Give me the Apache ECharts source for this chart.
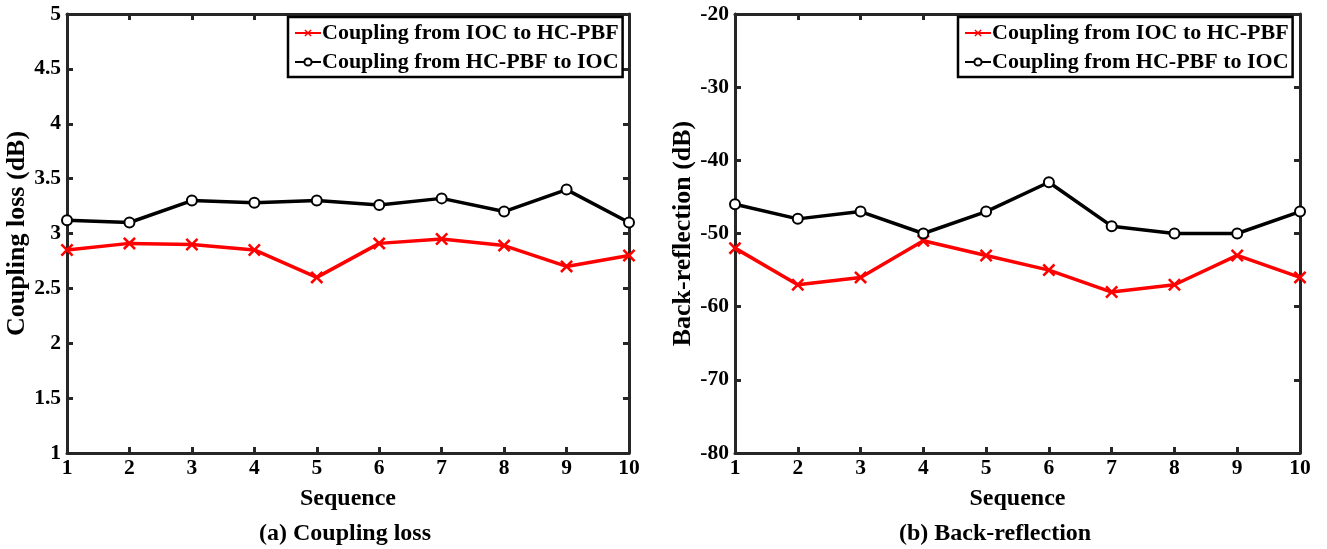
<!DOCTYPE html>
<html><head><meta charset="utf-8">
<script src="https://cdn.jsdelivr.net/npm/echarts@6/dist/echarts.min.js"></script>
<style>html,body{margin:0;padding:0;background:#fff}#c{width:1327px;height:549px}</style>
</head><body><div id="c"></div>
<script>
const sequence = ['1','2','3','4','5','6','7','8','9','10'];
const lossIocToFiber = [2.85, 2.91, 2.90, 2.85, 2.60, 2.91, 2.95, 2.89, 2.70, 2.80];
const lossFiberToIoc = [3.12, 3.10, 3.30, 3.28, 3.30, 3.26, 3.32, 3.20, 3.40, 3.10];
const reflIocToFiber = [-52, -57, -56, -51, -53, -55, -58, -57, -53, -56];
const reflFiberToIoc = [-46, -48, -47, -50, -47, -43, -49, -50, -50, -47];
const seriesNames = ['Coupling from IOC to HC-PBF', 'Coupling from HC-PBF to IOC'];

const FONT = '"Liberation Serif", "Times New Roman", serif';
const FRAME = '#262626';
const crossPath = 'path://M0,1.4L1.4,0L5,3.6L8.6,0L10,1.4L6.4,5L10,8.6L8.6,10L5,6.4L1.4,10L0,8.6L3.6,5Z';

const grids = [
  {left: 67, right: 698, top: 14, bottom: 96},
  {left: 735, right: 27, top: 14, bottom: 96}
];

function xAxes(gi) {
  const base = {
    type: 'category', data: sequence, boundaryGap: false, gridIndex: gi,
    axisLine: {show: true, lineStyle: {color: FRAME, width: 3}},
    axisTick: {show: true, inside: true, length: 6, alignWithLabel: true, lineStyle: {color: FRAME, width: 3}},
    splitLine: {show: false}
  };
  return [
    Object.assign({}, base, {
      position: 'bottom',
      name: 'Sequence', nameLocation: 'middle', nameGap: 34,
      nameTextStyle: {fontFamily: FONT, fontWeight: 'bold', fontSize: 24, color: '#000'},
      axisLabel: {fontFamily: FONT, fontWeight: 'bold', fontSize: 21.5, color: '#000', margin: 4}
    }),
    Object.assign({}, base, {position: 'top', axisLabel: {show: false}})
  ];
}
function yAxes(gi, min, max, interval, name) {
  const base = {
    type: 'value', gridIndex: gi, min: min, max: max, interval: interval,
    axisLine: {show: true, lineStyle: {color: FRAME, width: 3}},
    axisTick: {show: true, inside: true, length: 6, lineStyle: {color: FRAME, width: 3}},
    splitLine: {show: false}
  };
  return [
    Object.assign({}, base, {
      position: 'left',
      name: name, nameLocation: 'middle', nameGap: 36,
      nameTextStyle: {fontFamily: FONT, fontWeight: 'bold', fontSize: 26, color: '#000'},
      axisLabel: {fontFamily: FONT, fontWeight: 'bold', fontSize: 21.5, color: '#000', margin: 6}
    }),
    Object.assign({}, base, {position: 'right', axisLabel: {show: false}})
  ];
}

function redSeries(data, xi, yi) {
  return {
    name: seriesNames[0], type: 'line', data: data, xAxisIndex: xi, yAxisIndex: yi,
    symbol: crossPath, symbolSize: 13, showAllSymbol: true,
    lineStyle: {color: '#ff0000', width: 3.5},
    itemStyle: {color: '#ff0000'}, z: 3
  };
}
function blackSeries(data, xi, yi) {
  return {
    name: seriesNames[1], type: 'line', data: data, xAxisIndex: xi, yAxisIndex: yi,
    symbol: 'emptyCircle', symbolSize: 10, showAllSymbol: true,
    lineStyle: {color: '#000', width: 3.5},
    itemStyle: {color: '#000', borderColor: '#000', borderWidth: 3.5}, z: 3
  };
}

function legend(left) {
  return {
    show: true, data: seriesNames, orient: 'vertical', left: left, top: 17,
    itemWidth: 26, itemHeight: 9, itemGap: 7,
    padding: [5, 4, 4, 6],
    borderColor: '#000', borderWidth: 2.5, backgroundColor: '#fff',
    textStyle: {fontFamily: FONT, fontWeight: 'bold', fontSize: 22, color: '#000', padding: [0, 0, 0, -4]}
  };
}

const chart = echarts.init(document.getElementById('c'), null, {renderer: 'canvas'});
chart.setOption({
  animation: false,
  backgroundColor: '#fff',
  grid: grids,
  xAxis: [].concat(xAxes(0), xAxes(1)),
  yAxis: [].concat(yAxes(0, 1, 5, 0.5, 'Coupling loss (dB)'), yAxes(1, -80, -20, 10, 'Back-reflection (dB)')),
  legend: [legend(288), legend(958)],
  series: [
    redSeries(lossIocToFiber, 0, 0),
    blackSeries(lossFiberToIoc, 0, 0),
    redSeries(reflIocToFiber, 2, 2),
    blackSeries(reflFiberToIoc, 2, 2)
  ],
  graphic: [
    {type: 'text', left: 259, top: 522, style: {text: '(a) Coupling loss', font: 'bold 24px ' + FONT, fill: '#000'}},
    {type: 'text', left: 899, top: 522, style: {text: '(b) Back-reflection', font: 'bold 24px ' + FONT, fill: '#000'}}
  ]
});
</script></body></html>
